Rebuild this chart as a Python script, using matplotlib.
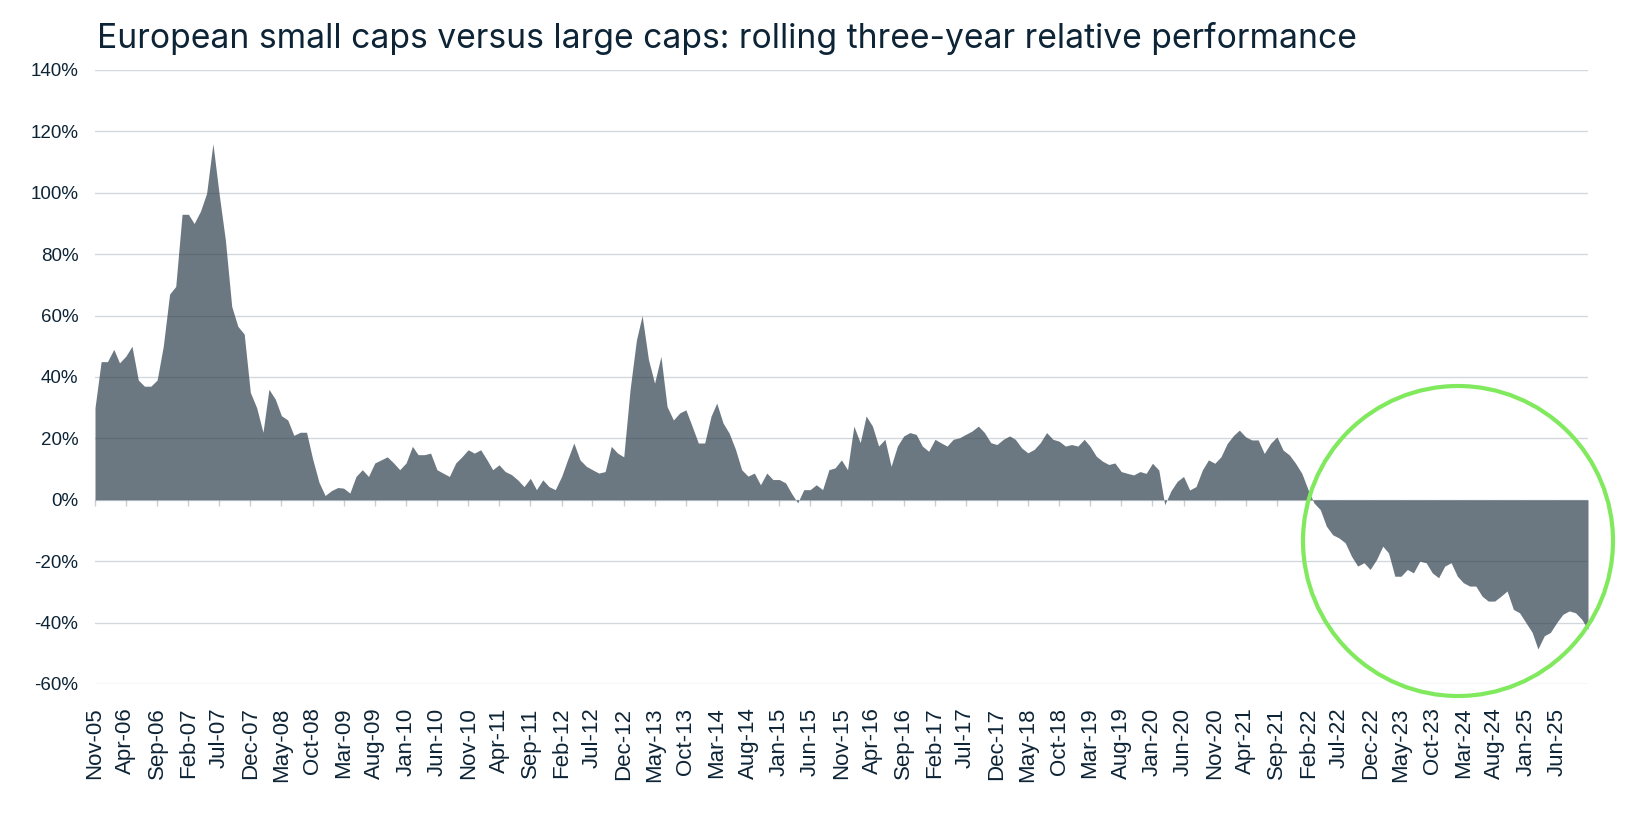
import numpy as np
import pandas as pd
import matplotlib
matplotlib.use("Agg")
import matplotlib.pyplot as plt
from matplotlib.patches import Ellipse


# monthly readings, Nov-05 .. Nov-25, relative performance in %
start_month = "2005-11-01"

perf_2005_2009 = [30, 45, 45, 49, 44.6, 46.8, 50, 39, 37, 37, 39, 50, 67, 69.5, 93, 93, 90, 94, 99.8, 116,
                  99.8, 84.6, 63, 56.5, 54, 35, 30, 22, 36, 32.8, 27.4, 26, 21, 22, 22, 13.3, 5.7, 1.4, 3, 4]

perf_2009_2014 = [3.8, 2.2, 7.6, 9.8, 7.6, 12, 13, 14, 12, 9.8, 12, 17.4, 14.7, 14.7, 15.2, 9.8, 8.7, 7.6, 12, 14,
                  16.3, 15.2, 16.3, 13, 9.8, 11.4, 9.2, 8.2, 6.5, 4.3, 7, 3.3, 6.5, 4.3, 3.3, 7.6, 13, 18.5, 13, 10.9,
                  9.8, 8.7, 9.2, 17.4, 15.2, 14, 35.9, 52, 60, 45.7, 38, 46.7, 30.4, 26, 28.3, 29.3, 23.9, 18.5, 18.5,
                  27.2, 31.5, 25, 21.7]

perf_2014_2019 = [16.4, 9.8, 7.7, 8.7, 4.9, 8.7, 6.6, 6.6, 5.5, 2.2, -1, 3.3, 3.3, 4.9, 3.3, 9.8, 10.4, 13, 9.8, 24,
                  18.6, 27.3, 24, 17.5, 19.7, 10.9, 17.5, 20.8, 21.9, 21.3, 17.5, 15.8, 19.7, 18.6, 17.5, 19.7, 20.2,
                  21.3, 22.4, 24, 21.9, 18.6, 18, 19.7, 20.8, 19.7, 16.9, 15.3, 16.4, 18.6, 21.9, 19.7, 19.1, 17.5, 18,
                  17.5, 19.7, 17.5, 14.2, 12.6, 11.5, 12]

perf_2019_2025 = [9.2, 8.6, 8.1, 9.2, 8.6, 11.9, 9.7, -1.6, 3, 6, 7.6, 3.2, 4.3, 9.7, 13, 11.9, 14, 18.4, 21, 22.7,
                  20.5, 19.5, 19.5, 15.1, 18.4, 20.5, 16.2, 14.6, 11.9, 8.6, 3.2, -1, -3.2, -8.6, -11.4, -12.4, -14,
                  -18.4, -21.6, -20.5, -22.7, -19.5, -15.1, -17.3, -24.9, -24.9, -22.7, -23.8, -20, -20.5, -23.8,
                  -25.4, -21.6, -20.5, -24.9, -27, -28.1, -28.1, -31.4, -33, -33, -31.4, -29.7, -35.7, -36.8, -40,
                  -43.2, -48.6, -44.3, -43.2, -40, -37.3, -36.2, -36.8, -38.9, -42.2]

y_ticks = [-60, -40, -20, 0, 20, 40, 60, 80, 100, 120, 140]
last_tick_month = "2025-06-01"

title = "European small caps versus large caps: rolling three-year relative performance"

text_color = "#0d2436"
fill_color = "#6c7881"
circle_color = "#80e95e"


# ------------------------------------------------------------------------------
def main():

	values = perf_2005_2009 + perf_2009_2014 + perf_2014_2019 + perf_2019_2025
	dates = pd.date_range(start_month, periods=len(values), freq="MS")

	W, H = 1640, 818
	fig = plt.figure(figsize=(W / 100, H / 100), dpi=100)
	ax = fig.add_axes([95 / W, 1 - 684 / H, (1588 - 95) / W, (684 - 70) / H])

	ax.fill_between(dates, values, 0, color=fill_color, lw=0, zorder=1)

	ax.set_ylim(-60, 140)
	ax.set_xlim(dates[0], dates[-1])
	ax.set_yticks(y_ticks)
	ax.set_yticklabels([f"{t}%" for t in y_ticks])

	# gridlines above the fill, semi transparent
	ax.grid(axis="y", color="#2a3f4f", alpha=0.2, lw=1.0, zorder=3)
	ax.set_axisbelow(False)

	tick_dates = dates[dates <= pd.Timestamp(last_tick_month)][::5]
	ax.set_xticks(tick_dates)
	ax.set_xticklabels([d.strftime("%b-%y") for d in tick_dates], rotation=90)

	for s in ax.spines.values():
		s.set_visible(False)

	ax.tick_params(axis="y", length=0, pad=12, labelsize=13.5, labelcolor=text_color)
	ax.tick_params(axis="x", length=0, pad=17, labelsize=16, labelcolor=text_color)
	for lab in ax.get_xticklabels() + ax.get_yticklabels():
		lab.set_family(["Liberation Sans", "DejaVu Sans"])

	# small tick marks sitting on the zero line
	sec = ax.secondary_xaxis(60 / 200)
	sec.set_xticks(tick_dates)
	sec.set_xticklabels([])
	sec.tick_params(axis="x", length=4, width=1, color="#c9cfd4", direction="out")
	sec.spines["bottom"].set_visible(False)

	fig.text(97 / W, 1 - 48 / H, title, fontsize=24.2, color=text_color,
		family=["Inter", "DejaVu Sans"], va="baseline", ha="left")

	# highlight circle, in figure pixels
	circ = Ellipse((1458 / W, 1 - 541 / H), 310 / W, 310 / H, transform=fig.transFigure,
		fill=False, ec=circle_color, lw=3, zorder=10)
	fig.add_artist(circ)

	fig.savefig("out.png", dpi=100)


# ------------------------------------------------------------------------------
if __name__ == '__main__':
	main()
